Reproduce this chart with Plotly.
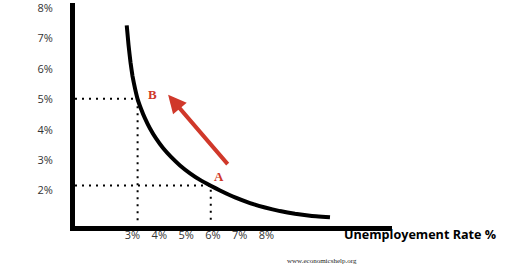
import plotly.graph_objects as go

# Phillips curve (unemployment %, inflation %)
curve_x = [2.784, 2.851, 2.925, 3.000, 3.093, 3.187, 3.317, 3.466, 3.653, 3.877, 4.138, 4.437,
           4.772, 5.146, 5.519, 5.918, 6.265, 6.825, 7.384, 7.944, 8.504, 9.063, 9.623, 10.369]
curve_y = [7.435, 6.792, 6.221, 5.766, 5.360, 5.019, 4.692, 4.373, 4.041, 3.714, 3.399, 3.107,
           2.828, 2.568, 2.351, 2.159, 2.003, 1.773, 1.588, 1.442, 1.325, 1.237, 1.172, 1.120]

point_names = ["B", "A"]
point_x = [3.19, 5.92]
point_y = [5.02, 2.17]

# arrow from A-side (tail) to B-side (head)
arrow_tail = (6.60, 2.82)
arrow_head = (4.33, 5.15)

x_ticks = [3, 4, 5, 6, 7, 8]
x_tick_labels = ["3%", "4%", "5%", "6%", "7%", "8%"]
y_ticks = [2, 3, 4, 5, 6, 7, 8]
y_tick_labels = ["2%", "3%", "4%", "5%", "6%", "7%", "8%"]

X_RANGE = [0.854, 12.683]
Y_RANGE = [0.834, 8.172]

RED = "#d0382a"

fig = go.Figure()

# dotted guide lines
for px_, py_ in zip(point_x, point_y):
    fig.add_trace(go.Scatter(
        x=[X_RANGE[0], px_, px_], y=[py_, py_, 0.95],
        mode="lines", line=dict(color="black", width=2, dash="2px,5px"),
        hoverinfo="skip", showlegend=False))

fig.add_trace(go.Scatter(
    x=curve_x, y=curve_y, mode="lines",
    line=dict(color="black", width=4, shape="spline", smoothing=0.3),
    showlegend=False))

fig.add_annotation(
    x=arrow_head[0], y=arrow_head[1], ax=arrow_tail[0], ay=arrow_tail[1],
    xref="x", yref="y", axref="x", ayref="y",
    text="", showarrow=True, arrowhead=2, arrowsize=0.9, arrowwidth=4,
    arrowcolor=RED)

label_dx = [0.54, 0.31]
label_dy = [0.13, 0.29]
for name, px_, py_, dx, dy in zip(point_names, point_x, point_y, label_dx, label_dy):
    fig.add_annotation(
        x=px_ + dx, y=py_ + dy, xref="x", yref="y", text=name, showarrow=False,
        font=dict(family="Liberation Serif", size=13, color=RED, weight="bold"))

fig.add_annotation(
    x=1.0868, y=-0.04, xref="paper", yref="paper", text="Unemployement Rate %",
    showarrow=False, xanchor="center", yanchor="middle",
    font=dict(family="Open Sans", size=12.6, color="black", weight="bold"))

fig.add_annotation(
    x=0.779, y=-0.159, xref="paper", yref="paper", text="www.economicshelp.org",
    showarrow=False, xanchor="center", yanchor="middle",
    font=dict(family="Liberation Serif", size=7, color="#222222"))

fig.update_layout(
    width=520, height=272,
    margin=dict(l=75, r=128, t=0, b=46),
    paper_bgcolor="white", plot_bgcolor="white",
    font=dict(family="Open Sans", size=11, color="#333333"),
    xaxis=dict(range=X_RANGE, tickvals=x_ticks, ticktext=x_tick_labels,
               showgrid=False, zeroline=False, showline=True,
               linecolor="black", linewidth=5, ticks="", ticklabelstandoff=-5),
    yaxis=dict(range=Y_RANGE, tickvals=y_ticks, ticktext=y_tick_labels,
               showgrid=False, zeroline=False, showline=True,
               linecolor="black", linewidth=5, ticks="", ticklabelstandoff=15,
               ticklabeloverflow="allow"),
)

fig.write_html("out.html")
